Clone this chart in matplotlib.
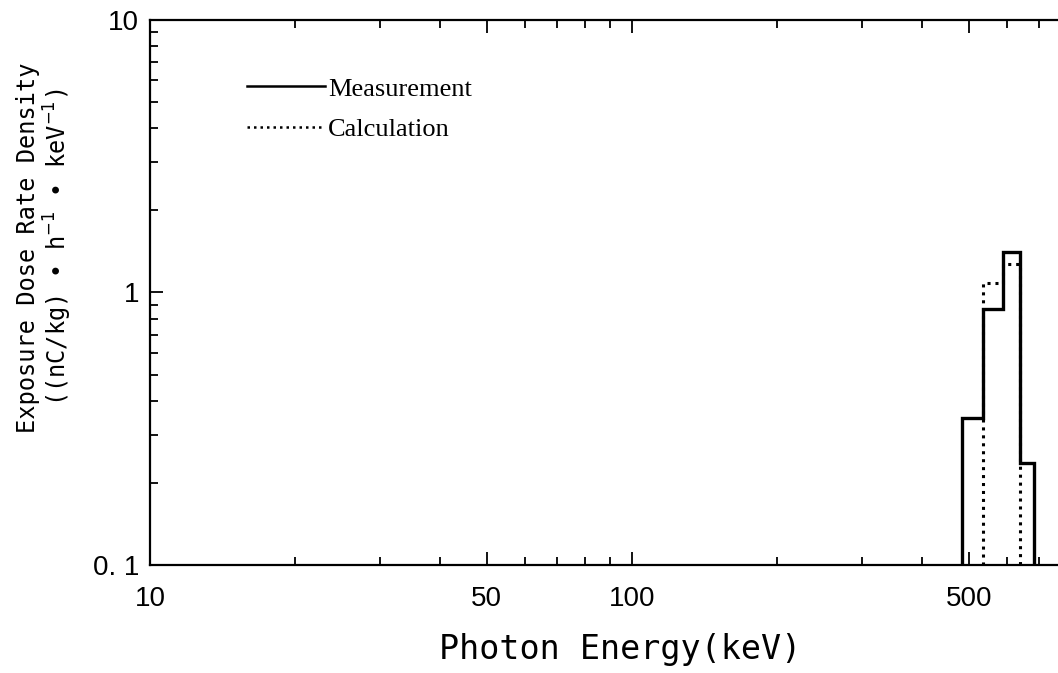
import matplotlib.pyplot as plt
from matplotlib.ticker import FixedLocator, LogLocator, NullFormatter, FixedFormatter

# bin edges (keV) and exposure dose rate density values
meas_edges = [484, 535, 588, 638, 682]
meas_vals = [0.346, 0.87, 1.41, 0.237]
calc_edges = [535, 588, 638]
calc_vals = [1.08, 1.27]

xticks = [10, 50, 100, 500]
xticklabels = ["10", "50", "100", "500"]
yticks = [0.1, 1, 10]
yticklabels = ["0. 1", "1", "10"]

xlim = (10, 766)
ylim = (0.1, 10)

fig = plt.figure(figsize=(10.58, 6.73), dpi=100)
ax = fig.add_axes([0.1418, 0.1605, 0.8582, 0.8098])

ax.stairs(meas_vals, meas_edges, baseline=ylim[0], color="black", linewidth=2.4,
          label="Measurement")
ax.stairs(calc_vals, calc_edges, baseline=ylim[0], color="black", linewidth=2.2,
          linestyle=(0, (1, 1.6)), label="Calculation")

ax.set_xscale("log")
ax.set_yscale("log")
ax.set_xlim(*xlim)
ax.set_ylim(*ylim)

ax.xaxis.set_major_locator(FixedLocator(xticks))
ax.xaxis.set_major_formatter(FixedFormatter(xticklabels))
ax.xaxis.set_minor_locator(LogLocator(base=10, subs=range(2, 10)))
ax.xaxis.set_minor_formatter(NullFormatter())
ax.yaxis.set_major_locator(FixedLocator(yticks))
ax.yaxis.set_major_formatter(FixedFormatter(yticklabels))
ax.yaxis.set_minor_locator(LogLocator(base=10, subs=range(2, 10)))
ax.yaxis.set_minor_formatter(NullFormatter())

ax.tick_params(which="both", direction="in", top=True, right=False, width=1.3)
ax.tick_params(which="major", length=9.5, labelsize=20)
ax.tick_params(axis="x", which="major", pad=15)
ax.tick_params(axis="y", which="major", pad=8)
ax.tick_params(which="minor", length=6)
for lab in ax.get_xticklabels() + ax.get_yticklabels():
    lab.set_family("Liberation Sans")
for s in ["left", "bottom", "top"]:
    ax.spines[s].set_linewidth(1.6)
ax.spines["right"].set_visible(False)

ax.set_xlabel("Photon Energy(keV)", fontsize=24, family="DejaVu Sans Mono")
ax.xaxis.set_label_coords(0.518, -0.125)
ax.set_ylabel("Exposure Dose Rate Density\n((nC/kg) • h$^{-1}$ • keV$^{-1}$)",
              fontsize=17, family="DejaVu Sans Mono", linespacing=1.05)
ax.yaxis.set_label_coords(-0.084, 0.582)

leg = ax.legend(loc="upper left", bbox_to_anchor=(0.107, 0.895), frameon=False,
                borderpad=0, borderaxespad=0, handlelength=2.95, handletextpad=0.12,
                labelspacing=0.65, prop={"family": "Liberation Serif", "size": 19})
for line in leg.get_lines():
    line.set_linewidth(1.8)

fig.savefig("out.png", dpi=100)
